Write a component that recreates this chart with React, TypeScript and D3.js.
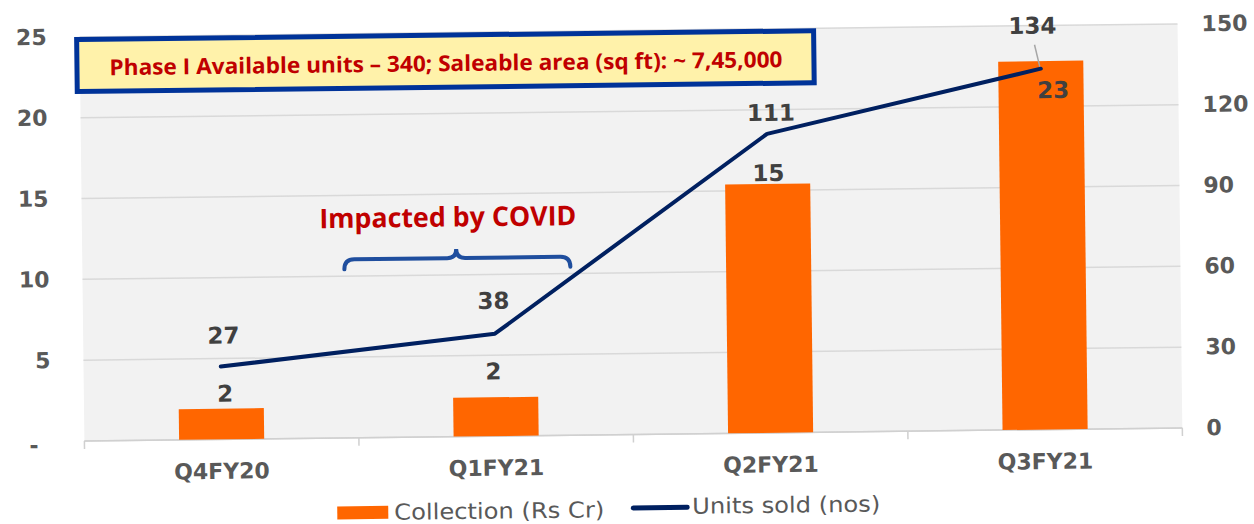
import React from "react";
import * as d3 from "d3";

const categories = ["Q4FY20", "Q1FY21", "Q2FY21", "Q3FY21"];
const collection = [1.9, 2.4, 15.4, 22.8];
const unitsSold = [27, 38, 111, 134];
const leftTicks = [0, 5, 10, 15, 20, 25];
const rightTicks = [0, 30, 60, 90, 120, 150];
const calloutText = "Phase I Available units – 340; Saleable area (sq ft): ~ 7,45,000";
const covidText = "Impacted by COVID";
const legendLabels = ["Collection (Rs Cr)", "Units sold (nos)"];

const W = 1254;
const H = 524;
const plotL = 82;
const plotR = 1180;
const plotB = 434.5;
const plotT = 30.5;

const ORANGE = "#ff6600";
const NAVY = "#002060";
const GRAY_TXT = "#595959";
const LABEL_TXT = "#404040";
const FONT = "'DejaVu Sans', Verdana, sans-serif";
const NARROW = "'Liberation Sans Narrow', 'Open Sans', sans-serif";

export default function App() {
  const x = d3.scaleBand<string>().domain(categories).range([plotL, plotR]).padding(0);
  const yL = d3.scaleLinear().domain([0, 25]).range([plotB, plotT]);
  const yR = d3.scaleLinear().domain([0, 150]).range([plotB, plotT]);
  const step = x.step();
  const bw = step * 0.31;
  const cx = (c: string) => (x(c) as number) + step / 2;

  const line = d3
    .line<number>()
    .x((_, i) => cx(categories[i]))
    .y((d) => yR(d));

  const fmt = d3.format(".0f");

  // label placement tweaks (px)
  const barLabelDy = [-15, -26, -11, 29];
  const barLabelDx = [4, -2, 1, 12];
  const lineLabelDy = [-31, -33, -21, -43];
  const lineLabelDx = [3, -1, 4, -8];

  const boundaries = d3.range(categories.length + 1).map((i) => plotL + i * step);

  return (
    <svg width={W} height={H} style={{ display: "block", position: "absolute", left: 0, top: 0 }}>
      <rect x={0} y={0} width={W} height={H} fill="#ffffff" />
      <g transform={`rotate(-0.68, ${W / 2}, 235)`}>
        {/* plot background */}
        <rect x={plotL} y={plotT} width={plotR - plotL} height={plotB - plotT} fill="#f2f2f2" />
        {/* gridlines */}
        {leftTicks.map((t) => (
          <line key={t} x1={plotL} x2={plotR} y1={yL(t)} y2={yL(t)} stroke="#d9d9d9" strokeWidth={1.5} />
        ))}
        {/* x axis */}
        <line x1={plotL} x2={plotR} y1={plotB} y2={plotB} stroke="#d0d0d0" strokeWidth={1.5} />
        {boundaries.map((b, i) => (
          <line key={i} x1={b} x2={b} y1={plotB} y2={plotB + 8} stroke="#d0d0d0" strokeWidth={1.5} />
        ))}
        {/* bars */}
        {collection.map((v, i) => (
          <rect
            key={categories[i]}
            x={cx(categories[i]) - bw / 2}
            y={yL(v)}
            width={bw}
            height={yL(0) - yL(v)}
            fill={ORANGE}
          />
        ))}
        {/* line */}
        <path d={line(unitsSold) || ""} fill="none" stroke={NAVY} strokeWidth={4} strokeLinejoin="round" strokeLinecap="round" />
        {/* leader line for last label */}
        <line
          x1={cx(categories[3]) - 6}
          y1={yR(unitsSold[3]) - 24}
          x2={cx(categories[3]) - 1}
          y2={yR(unitsSold[3]) - 2}
          stroke="#a6a6a6"
          strokeWidth={1.5}
        />
        {/* bar labels */}
        {collection.map((v, i) => (
          <text
            key={"b" + i}
            x={cx(categories[i]) + barLabelDx[i]}
            y={yL(v) + barLabelDy[i]}
            textAnchor="middle"
            dominantBaseline="central"
            fontFamily={FONT}
            fontWeight="bold"
            fontSize={23}
            fill={LABEL_TXT}
          >
            {fmt(v)}
          </text>
        ))}
        {/* line labels */}
        {unitsSold.map((v, i) => (
          <text
            key={"l" + i}
            x={cx(categories[i]) + lineLabelDx[i]}
            y={yR(v) + lineLabelDy[i]}
            textAnchor="middle"
            dominantBaseline="central"
            fontFamily={FONT}
            fontWeight="bold"
            fontSize={23}
            fill={LABEL_TXT}
          >
            {v}
          </text>
        ))}
        {/* left axis */}
        {leftTicks.map((t) => (
          <text
            key={"lt" + t}
            x={t === 0 ? 36 : 49}
            y={yL(t) + (t === 0 ? 4 : 0)}
            textAnchor="end"
            dominantBaseline="central"
            fontFamily={FONT}
            fontWeight="bold"
            fontSize={22}
            fill={GRAY_TXT}
          >
            {t === 0 ? "-" : t}
          </text>
        ))}
        {/* right axis */}
        {rightTicks.map((t) => (
          <text
            key={"rt" + t}
            x={1204}
            y={yR(t)}
            textAnchor="start"
            dominantBaseline="central"
            fontFamily={FONT}
            fontWeight="bold"
            fontSize={22}
            fill={GRAY_TXT}
          >
            {t}
          </text>
        ))}
        {/* category labels */}
        {categories.map((c) => (
          <text
            key={"c" + c}
            x={cx(c)}
            y={plotB + 32}
            textAnchor="middle"
            dominantBaseline="central"
            fontFamily={FONT}
            fontWeight="bold"
            fontSize={22}
            fill={GRAY_TXT}
          >
            {c}
          </text>
        ))}
        {/* callout box */}
        <rect x={79} y={33} width={737} height={52} fill="#fff2aa" stroke="#003399" strokeWidth={5} />
        <text
          x={448}
          y={60}
          textAnchor="middle"
          dominantBaseline="central"
          fontFamily={NARROW}
          fontWeight="bold"
          fontSize={22}
          fill="#c00000"
          textLength={673}
          lengthAdjust="spacingAndGlyphs"
        >
          {calloutText}
        </text>
        {/* covid annotation */}
        <text
          x={448}
          y={214}
          textAnchor="middle"
          dominantBaseline="central"
          fontFamily={NARROW}
          fontWeight="bold"
          fontSize={27}
          fill="#c00000"
          textLength={257}
          lengthAdjust="spacingAndGlyphs"
        >
          {covidText}
        </text>
        <path
          d="M344,266 Q344,256 354,256 L447,256 Q456,256 456,247 Q456,256 465,256 L560,256 Q570,256 570,266"
          fill="none"
          stroke="#1f4e9e"
          strokeWidth={4}
          strokeLinecap="round"
        />
        {/* legend */}
        <rect x={334} y={503} width={51} height={13} fill={ORANGE} />
        <text
          x={391}
          y={509.5}
          dominantBaseline="central"
          fontFamily={FONT}
          fontSize={22}
          fill={GRAY_TXT}
          textLength={210}
          lengthAdjust="spacingAndGlyphs"
        >
          {legendLabels[0]}
        </text>
        <line x1={630} x2={684} y1={508} y2={508} stroke={NAVY} strokeWidth={5} strokeLinecap="round" />
        <text
          x={689}
          y={507}
          dominantBaseline="central"
          fontFamily={FONT}
          fontSize={22}
          fill={GRAY_TXT}
          textLength={188}
          lengthAdjust="spacingAndGlyphs"
        >
          {legendLabels[1]}
        </text>
      </g>
    </svg>
  );
}
